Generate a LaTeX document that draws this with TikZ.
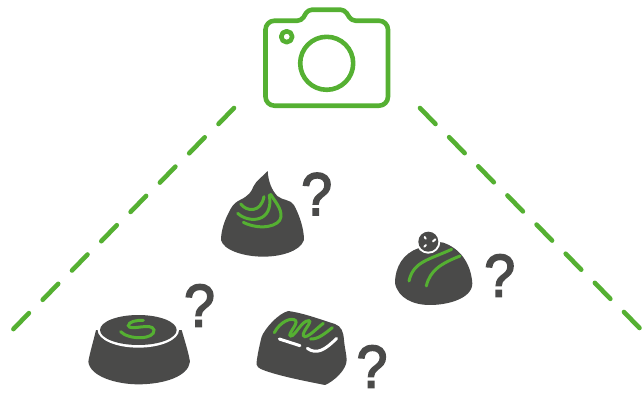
\documentclass[tikz,border=0pt]{standalone}
\usepackage{fontspec}
\setmainfont{Liberation Sans}
\newfontfamily\qfont{Liberation Sans}[FakeBold=3]
\definecolor{grn}{HTML}{55B032}
\definecolor{dk}{HTML}{4A4A49}
\tikzset{
 cam/.style={draw=grn,line width=4.6pt,line join=round},
 dashline/.style={draw=grn,line width=4.6pt,line cap=round},
 choc/.style={fill=dk,draw=none},
 swirl/.style={draw=grn,line width=3pt,line cap=round},
 gap/.style={draw=white,line width=3pt,line cap=round},
 qm/.style={text=dk,font=\fontsize{60}{60}\selectfont\qfont,inner sep=0pt,anchor=center,xscale=0.92,transform shape},
 local/.style={x=0.3333pt,y=-0.3333pt}
}
\begin{document}
\begin{tikzpicture}[x=1pt,y=-1pt]
\useasboundingbox (0,0) rectangle (643,392);
% camera
\draw[cam] (326,105.7) [rounded corners=9pt] -- (265.5,105.7) -- (265.5,20.7) [rounded corners=4pt] -- (301.5,20.7) -- (308,9.7) -- (344.5,9.7) -- (351.5,20.7) [rounded corners=9pt] -- (388,20.7) -- (388,105.7) -- cycle;
\node[cam,circle,minimum size=53pt,inner sep=0pt] (lens) at (326.7,63.3) {};
\node[cam,circle,minimum size=11pt,inner sep=0pt] (flash) at (286.7,36.7) {};
% dashed sight lines
\foreach \k in {0,...,7}{
 \draw[dashline] ({234-29.3*\k},{108+29.3*\k}) -- ({218.5-29.3*\k},{124+29.3*\k});
 \draw[dashline] ({420+29.14*\k},{108+29.14*\k}) -- ({435.5+29.14*\k},{124+29.14*\k});
}
% swirl chocolate
\begin{scope}[shift={(200,160)},local]
\fill[choc] (203,33) .. controls (190,48) and (168,62) .. (160,80) .. controls (155,95) and (145,108) .. (120,120) .. controls (100,130) and (95,140) .. (85,160) .. controls (72,185) and (63,215) .. (63,240) .. controls (70,270) and (130,290) .. (190,290) .. controls (240,290) and (300,275) .. (312,240) .. controls (312,205) and (298,165) .. (282,135) .. controls (272,118) and (248,122) .. (232,108) .. controls (215,90) and (205,65) .. (203,33) -- cycle;
\draw[swirl] (122,132) .. controls (140,155) and (182,160) .. (192,110);
\draw[swirl] (113,160) .. controls (145,190) and (222,190) .. (208,105);
\draw[swirl] (130,187) .. controls (180,212) and (240,200) .. (243,170) .. controls (245,145) and (225,125) .. (212,103);
\end{scope}
\node[qm] (q1) at (316.7,194) {?};
% truffle
\begin{scope}[shift={(385,220)},local]
\fill[choc] (100,85) .. controls (55,100) and (30,140) .. (30,190) .. controls (40,235) and (85,255) .. (135,255) .. controls (190,255) and (262,235) .. (262,190) .. controls (258,130) and (225,85) .. (175,68) -- (130,60) -- cycle;
\fill[white] (130,65) circle[radius=12pt];
\fill[choc] (130,65) circle[radius=10pt];
\draw[white,line width=2pt,line cap=round] (119,51) -- (122,56) (151,58) -- (144,64) (118,80) -- (123,75);
\draw[swirl] (72,183) .. controls (85,125) and (130,120) .. (200,88);
\draw[swirl] (124,198) .. controls (135,150) and (170,130) .. (225,108);
\end{scope}
\node[qm] (q2) at (499.7,275.5) {?};
% cup chocolate
\begin{scope}[shift={(80,275)},local]
\fill[choc] (48,165) .. controls (40,200) and (30,230) .. (25,260) .. controls (30,305) and (110,328) .. (175,328) .. controls (250,328) and (325,305) .. (330,260) .. controls (325,230) and (315,200) .. (305,165) -- cycle;
\fill[white] (175,165) ellipse[x radius=122,y radius=53];
\fill[choc] (175,165) ellipse[x radius=115,y radius=45];
\draw[swirl] (122,170) .. controls (145,195) and (225,195) .. (222,165) .. controls (215,140) and (150,170) .. (145,152) .. controls (145,140) and (170,135) .. (190,136);
\end{scope}
\node[qm] (q3) at (199.5,305.5) {?};
% square chocolate
\begin{scope}[shift={(245,300)},local]
\fill[choc] (130,33) .. controls (180,40) and (230,60) .. (270,72) .. controls (290,80) and (295,95) .. (297,120) .. controls (300,150) and (305,165) .. (305,180) .. controls (305,210) and (265,245) .. (240,255) .. controls (190,245) and (110,230) .. (60,212) .. controls (40,205) and (33,200) .. (35,185) .. controls (38,160) and (45,130) .. (50,110) .. controls (60,85) and (100,40) .. (130,33) -- cycle;
\draw[gap] (103,117) -- (165,137);
\draw[gap] (187,145) .. controls (215,165) and (240,150) .. (275,115);
\draw[swirl] (88,98) .. controls (105,65) and (140,50) .. (152,62) .. controls (160,72) and (125,105) .. (137,108) .. controls (150,110) and (170,60) .. (192,62) .. controls (205,65) and (160,105) .. (180,110) .. controls (195,108) and (215,85) .. (235,70);
\draw[swirl] (197,117) .. controls (220,118) and (240,100) .. (262,83);
\end{scope}
\node[qm] (q4) at (372,366.5) {?};
\end{tikzpicture}
\end{document}
